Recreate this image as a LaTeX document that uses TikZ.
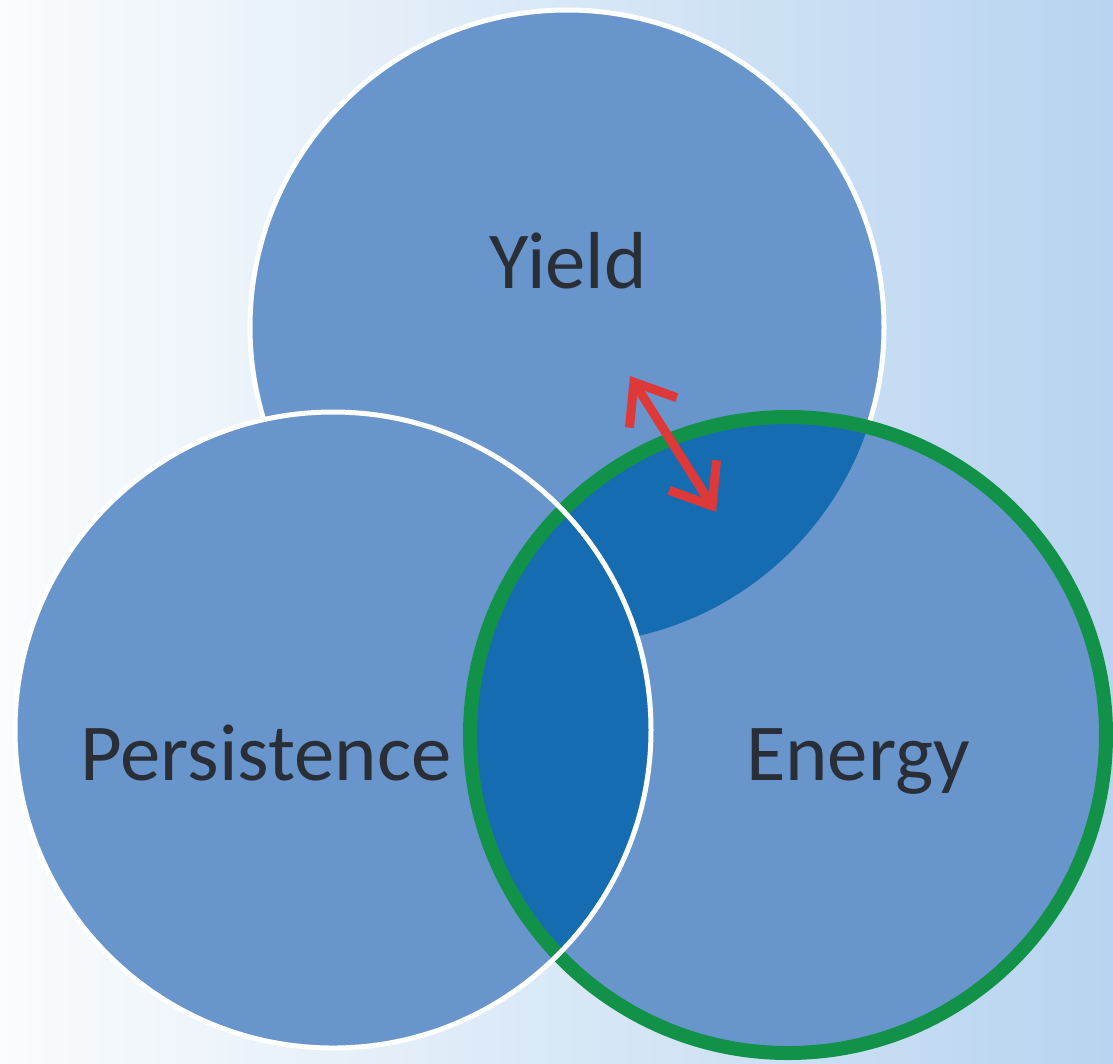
\documentclass[tikz,border=0pt]{standalone}
\usepackage{fontspec}
\setmainfont{Carlito}
\definecolor{paleblue}{RGB}{184, 212, 240}
\definecolor{midblue}{RGB}{226, 237, 248}
\definecolor{paperwhite}{RGB}{250, 252, 253}
\definecolor{circleblue}{RGB}{104, 150, 204}
\definecolor{deepblue}{RGB}{22, 108, 176}
\definecolor{ringgreen}{RGB}{18, 146, 72}
\definecolor{arrowred}{RGB}{222, 56, 56}
\definecolor{textgray}{RGB}{42, 46, 54}
\usetikzlibrary{arrows.meta}

\begin{document}
\begin{tikzpicture}[
    x=0.1mm, y=-0.1mm,
    disc/.style={fill=circleblue},
    overlap/.style={fill=deepblue},
    rim/.style={draw=white, line width=0.5mm},
    greenrim/.style={draw=ringgreen, line width=1.4mm},
    label/.style={font=\fontsize{23}{27}\selectfont, text=textgray, anchor=base},
    arrow/.style={{Straight Barb[length=3.6mm,width=5.6mm,line width=0.9mm]}-{Straight Barb[length=3.6mm,width=5.6mm,line width=0.9mm]},line width=0.9mm,arrowred}
]
    % Background
    \shade[left color=paperwhite, middle color=midblue, right color=paleblue] (0,0) rectangle (1113,1063);
    \useasboundingbox (0,0) rectangle (1113,1063);

    % Centres
    \coordinate (yield) at (567,327);
    \coordinate (persistence) at (333,730);
    \coordinate (energy) at (788,735);

    % Circles
    \path[disc, rim] (yield) circle (317);
    \path[disc] (persistence) circle (318);
    \path[disc] (energy) circle (318);

    % Overlaps with Energy
    \begin{scope}
        \clip (energy) circle (318);
        \path[overlap] (yield) circle (317);
        \path[overlap] (persistence) circle (318);
    \end{scope}

    % Outlines
    \path[greenrim] (energy) circle (318);
    \path[rim] (persistence) circle (318);

    % Labels
    \node[label] (yieldtext) at (568,288) {Yield};
    \node[label] (persistencetext) at (266,780) {Persistence};
    \node[label] (energytext) at (858,780) {Energy};

    % Arrow
    \coordinate (arrowtop) at (630,376);
    \coordinate (arrowbot) at (716,512);
    \draw[arrow] (arrowtop) -- (arrowbot);
\end{tikzpicture}
\end{document}
